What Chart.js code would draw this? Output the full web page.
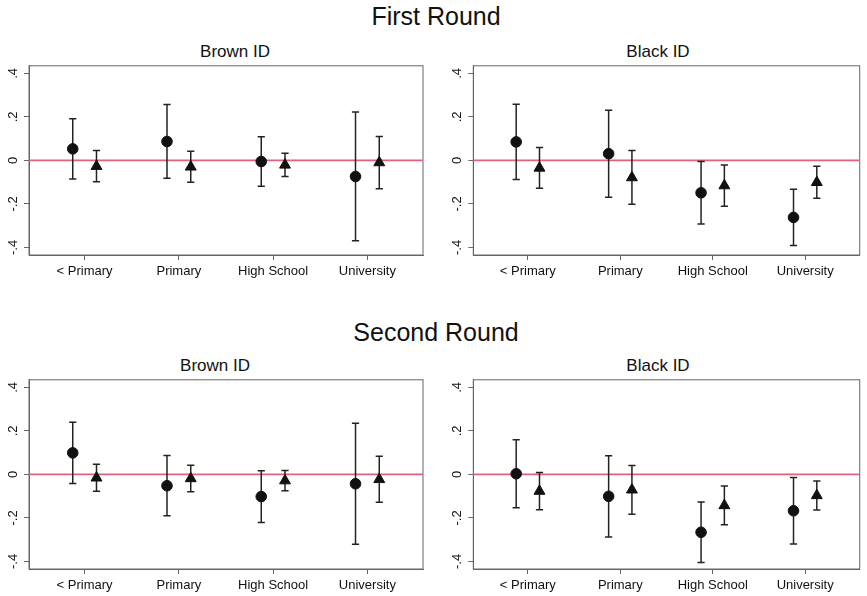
<!DOCTYPE html>
<html>
<head>
<meta charset="utf-8">
<script src="https://cdn.jsdelivr.net/npm/chart.js@4.4.0/dist/chart.umd.min.js"></script>
<style>
  body { margin: 0; background: #fff; width: 867px; height: 596px; position: relative; overflow: hidden; font-family: 'Liberation Sans', Arial, sans-serif; }
  canvas { position: absolute; }
  .t { position: absolute; white-space: nowrap; transform: translateX(-50%); color: #111; }
  .big { font-size: 25px; line-height: 25px; }
  .small { font-size: 17px; line-height: 17px; }
</style>
</head>
<body>
<div class="t big" style="left:436px; top:4px;">First Round</div>
<div class="t small" style="left:235px; top:43px;">Brown ID</div>
<div class="t small" style="left:658px; top:43px;">Black ID</div>
<div class="t big" style="left:436px; top:320px;">Second Round</div>
<div class="t small" style="left:215px; top:357px;">Brown ID</div>
<div class="t small" style="left:658px; top:357px;">Black ID</div>

<canvas id="c1" width="433" height="230" style="left:0; top:55px;"></canvas>
<canvas id="c2" width="427" height="230" style="left:440px; top:55px;"></canvas>
<canvas id="c3" width="433" height="227" style="left:0; top:369px;"></canvas>
<canvas id="c4" width="427" height="227" style="left:440px; top:369px;"></canvas>

<script>
// categories on the x axis
const categories = ['< Primary', 'Primary', 'High School', 'University'];
const yTickValues = [-0.4, -0.2, 0, 0.2, 0.4];
const yTickLabels = ['-.4', '-.2', '0', '.2', '.4'];

// First round, Brown ID
const r1BrownCircle = [0.053, 0.087, -0.005, -0.074];
const r1BrownCircleLo = [-0.085, -0.082, -0.119, -0.370];
const r1BrownCircleHi = [0.192, 0.257, 0.109, 0.223];
const r1BrownTri = [-0.027, -0.030, -0.021, -0.010];
const r1BrownTriLo = [-0.098, -0.101, -0.074, -0.130];
const r1BrownTriHi = [0.045, 0.042, 0.033, 0.110];

// First round, Black ID
const r1BlackCircle = [0.085, 0.031, -0.149, -0.262];
const r1BlackCircleLo = [-0.088, -0.169, -0.293, -0.391];
const r1BlackCircleHi = [0.258, 0.231, -0.005, -0.133];
const r1BlackTri = [-0.035, -0.079, -0.116, -0.101];
const r1BlackTriLo = [-0.128, -0.202, -0.211, -0.174];
const r1BlackTriHi = [0.059, 0.045, -0.021, -0.027];

// Second round, Brown ID
const r2BrownCircle = [0.099, -0.052, -0.102, -0.043];
const r2BrownCircleLo = [-0.042, -0.190, -0.221, -0.321];
const r2BrownCircleHi = [0.240, 0.087, 0.017, 0.235];
const r2BrownTri = [-0.016, -0.019, -0.029, -0.023];
const r2BrownTriLo = [-0.078, -0.080, -0.075, -0.128];
const r2BrownTriHi = [0.047, 0.042, 0.018, 0.083];

// Second round, Black ID
const r2BlackCircle = [0.003, -0.101, -0.266, -0.167];
const r2BlackCircleLo = [-0.153, -0.288, -0.405, -0.320];
const r2BlackCircleHi = [0.159, 0.086, -0.127, -0.014];
const r2BlackTri = [-0.077, -0.071, -0.143, -0.097];
const r2BlackTriLo = [-0.162, -0.183, -0.232, -0.164];
const r2BlackTriHi = [0.009, 0.041, -0.053, -0.030];

const xMin = 0.41, xMax = 4.59;
const shift = 0.126;
const axisColor = '#666';

// box round the plot region (stata style)
const frame = {
  id: 'frame',
  beforeDatasetsDraw(chart) {
    const { ctx, chartArea: a } = chart;
    ctx.save();
    ctx.strokeStyle = axisColor;
    ctx.lineWidth = 1;
    ctx.strokeRect(a.left, a.top, a.width, a.height);
    ctx.restore();
  }
};

function points(vals, dx) {
  return vals.map((v, i) => ({ x: i + 1 + dx, y: v }));
}

function bars(lo, hi, dx) {
  const pts = [];
  lo.forEach((l, i) => {
    const x = i + 1 + dx;
    pts.push({ x: x, y: l }, { x: x, y: hi[i] }, { x: x, y: null });
  });
  return pts;
}

function makePanel(id, c, cLo, cHi, t, tLo, tHi, yWidth, padRight, xHeight) {
  const ebStyle = {
    showLine: true, spanGaps: false,
    borderColor: '#222', borderWidth: 1.5,
    pointStyle: 'line', pointRadius: 3.6, pointBorderColor: '#222', pointBorderWidth: 1.5,
    order: 2
  };
  new Chart(document.getElementById(id), {
    type: 'scatter',
    data: {
      datasets: [
        { data: points(c, -shift), pointStyle: 'circle', pointRadius: 5.3, backgroundColor: '#111', borderColor: '#111', borderWidth: 1, order: 1 },
        { data: points(t, shift), pointStyle: 'triangle', pointRadius: 6.3, backgroundColor: '#111', borderColor: '#111', borderWidth: 1, order: 1 },
        Object.assign({ data: bars(cLo, cHi, -shift) }, ebStyle),
        Object.assign({ data: bars(tLo, tHi, shift) }, ebStyle),
        { data: [{ x: xMin, y: 0 }, { x: xMax, y: 0 }], showLine: true, borderColor: '#e0607e', borderWidth: 1.8, pointRadius: 0, order: 3 }
      ]
    },
    options: {
      responsive: false,
      animation: false,
      layout: { padding: { top: 7.7, right: padRight, bottom: 0, left: 0 } },
      plugins: { legend: { display: false }, tooltip: { enabled: false } },
      scales: {
        x: {
          type: 'linear', min: xMin, max: xMax,
          afterBuildTicks: s => { s.ticks = categories.map((_, i) => ({ value: i + 1 })); },
          afterFit: s => { s.height = xHeight; },
          ticks: {
            autoSkip: false, maxRotation: 0, padding: 4, color: '#111',
            font: { family: 'Liberation Sans', size: 13 },
            callback: v => categories[v - 1]
          },
          grid: { drawOnChartArea: false, drawTicks: true, tickLength: 5, color: axisColor },
          border: { display: true, color: axisColor }
        },
        y: {
          type: 'linear', min: -0.435, max: 0.435,
          afterBuildTicks: s => { s.ticks = yTickValues.map(v => ({ value: v })); },
          afterFit: s => { s.width = yWidth; },
          ticks: {
            minRotation: 90, maxRotation: 90, crossAlign: 'center', padding: 3, color: '#111',
            font: { family: 'Liberation Sans', size: 13 },
            callback: v => yTickLabels[yTickValues.indexOf(v)]
          },
          grid: { drawOnChartArea: false, drawTicks: true, tickLength: 5, color: axisColor },
          border: { display: true, color: axisColor }
        }
      }
    },
    plugins: [frame]
  });
}

makePanel('c1', r1BrownCircle, r1BrownCircleLo, r1BrownCircleHi, r1BrownTri, r1BrownTriLo, r1BrownTriHi, 29, 10, 30);
makePanel('c2', r1BlackCircle, r1BlackCircleLo, r1BlackCircleHi, r1BlackTri, r1BlackTriLo, r1BlackTriHi, 33.3, 1, 30);
makePanel('c3', r2BrownCircle, r2BrownCircleLo, r2BrownCircleHi, r2BrownTri, r2BrownTriLo, r2BrownTriHi, 29, 10, 27);
makePanel('c4', r2BlackCircle, r2BlackCircleLo, r2BlackCircleHi, r2BlackTri, r2BlackTriLo, r2BlackTriHi, 33.3, 1, 27);
</script>
</body>
</html>
